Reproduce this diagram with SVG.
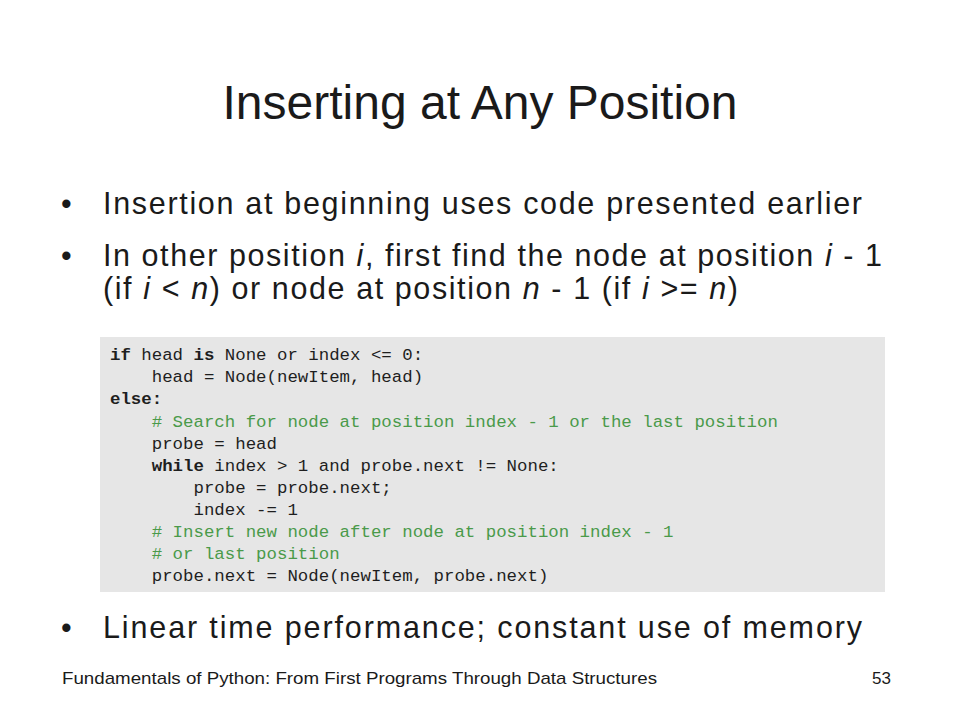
<svg xmlns="http://www.w3.org/2000/svg" width="960" height="720" viewBox="0 0 960 720">
<style>
.sans{font-family:"Liberation Sans",Arial,sans-serif;fill:#1a1a1a}
.title{font-size:48px}
.bul{font-size:30.5px}
.foot{font-size:17px}
.code{font-family:"Liberation Mono","Courier New",monospace;font-size:17.4px;fill:#1e1e1e}
.kw{font-weight:bold}
.cm{fill:#4a9a4a}
</style>
<rect x="0" y="0" width="960" height="720" fill="#ffffff"/>
<g id="title">
<text class="sans title" x="480" y="119" text-anchor="middle">Inserting at Any Position</text>
</g>
<g id="bullets">
<text class="sans bul" x="61" y="214">•</text>
<text class="sans bul" x="103" y="214" textLength="759" lengthAdjust="spacing">Insertion at beginning uses code presented earlier</text>
<text class="sans bul" x="61" y="266">•</text>
<text class="sans bul" x="103" y="266" textLength="779" lengthAdjust="spacing">In other position <tspan font-style="italic">i</tspan>, first find the node at position <tspan font-style="italic">i</tspan> - 1</text>
<text class="sans bul" x="103" y="299" textLength="635" lengthAdjust="spacing">(if <tspan font-style="italic">i</tspan> &lt; <tspan font-style="italic">n</tspan>) or node at position <tspan font-style="italic">n</tspan> - 1 (if <tspan font-style="italic">i</tspan> &gt;= <tspan font-style="italic">n</tspan>)</text>
<text class="sans bul" x="61" y="638">•</text>
<text class="sans bul" x="103" y="638" textLength="759" lengthAdjust="spacing">Linear time performance; constant use of memory</text>
</g>
<g id="codebox">
<rect x="100" y="337" width="785" height="255" fill="#e6e6e6"/>
<text class="code" xml:space="preserve" x="110" y="360"><tspan class="kw">if</tspan> head <tspan class="kw">is</tspan> None or index &lt;= 0:</text>
<text class="code" xml:space="preserve" x="110" y="382">    head = Node(newItem, head)</text>
<text class="code kw" xml:space="preserve" x="110" y="404">else:</text>
<text class="code cm" xml:space="preserve" x="110" y="427">    # Search for node at position index - 1 or the last position</text>
<text class="code" xml:space="preserve" x="110" y="449">    probe = head</text>
<text class="code" xml:space="preserve" x="110" y="471">    <tspan class="kw">while</tspan> index &gt; 1 and probe.next != None:</text>
<text class="code" xml:space="preserve" x="110" y="493">        probe = probe.next;</text>
<text class="code" xml:space="preserve" x="110" y="515">        index -= 1</text>
<text class="code cm" xml:space="preserve" x="110" y="537">    # Insert new node after node at position index - 1</text>
<text class="code cm" xml:space="preserve" x="110" y="559">    # or last position</text>
<text class="code" xml:space="preserve" x="110" y="581">    probe.next = Node(newItem, probe.next)</text>
</g>
<g id="footer">
<text class="sans foot" x="62" y="684" textLength="595" lengthAdjust="spacingAndGlyphs">Fundamentals of Python: From First Programs Through Data Structures</text>
<text class="sans foot" x="891" y="684" text-anchor="end">53</text>
</g>
</svg>
